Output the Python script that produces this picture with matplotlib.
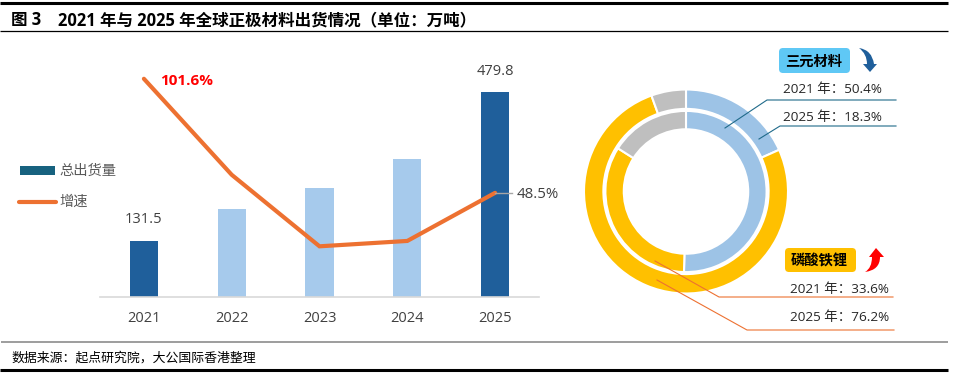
import matplotlib
matplotlib.use('Agg')
import matplotlib.pyplot as plt
from matplotlib.patches import FancyBboxPatch, PathPatch
from matplotlib.path import Path

plt.rcParams['font.family'] = ['Open Sans', 'Noto Sans CJK SC', 'DejaVu Sans']

years = ['2021', '2022', '2023', '2024', '2025']
shipments = [131.5, 206, 255, 323, 479.8]
growth = [101.6, 56.9, 23.6, 26.1, 48.5]
ring_2025 = [18.3, 76.2, 5.5]
ring_2021 = [50.4, 33.6, 16.0]

W, H = 954, 376
DARK = '#1F5F9B'
LIGHT = '#A6CAEC'
ORANGE = '#ED7131'
YELLOW = '#FFC000'
RING_BLUE = '#9DC3E6'
GRAY = '#BFBFBF'
TEXT = '#404040'
COLON = '\uff1a'  # полноширинное двоеточие


def rect(x0, y0, x1, y1):  # пиксели картинки -> доли фигуры
    return [x0 / W, 1 - y1 / H, (x1 - x0) / W, (y1 - y0) / H]


fig = plt.figure(figsize=(W / 100, H / 100), dpi=100)

# столбцы и линия
ax = fig.add_axes(rect(100, 50, 539, 297))
bar_colors = [DARK, LIGHT, LIGHT, LIGHT, DARK]
ax.bar(range(5), shipments, width=0.32, color=bar_colors)
ax.set_xlim(-0.5, 4.5)
ax.set_ylim(0, 578)
ax.set_xticks(range(5))
ax.set_xticklabels(years, fontsize=10.5, color=TEXT)
ax.tick_params(axis='x', length=0, pad=10)
ax.set_yticks([])
for s in ['top', 'left', 'right']:
    ax.spines[s].set_visible(False)
ax.spines['bottom'].set_color('#D9D9D9')
ax.spines['bottom'].set_linewidth(1.2)

ax2 = ax.twinx()
ax2.plot(range(5), growth, color=ORANGE, lw=3, solid_capstyle='round', solid_joinstyle='miter')
ax2.set_ylim(0, 115)
ax2.set_yticks([])
for s in ax2.spines.values():
    s.set_visible(False)

ax.text(0, shipments[0] + 49, '131.5', ha='center', va='center', fontsize=10.5, color=TEXT)
ax.text(4, shipments[4] + 48, '479.8', ha='center', va='center', fontsize=10.5, color=TEXT)

# кольца
ax3 = fig.add_axes(rect(584, 89.5, 788, 293.5))
wedge_colors = [RING_BLUE, YELLOW, GRAY]
ax3.pie(ring_2025, radius=1.0, colors=wedge_colors, startangle=90, counterclock=False,
        wedgeprops=dict(width=0.19, edgecolor='white', linewidth=1.5))
ax3.pie(ring_2021, radius=0.79, colors=wedge_colors, startangle=90, counterclock=False,
        wedgeprops=dict(width=0.18, edgecolor='white', linewidth=1.5))
ax3.set_xlim(-1.0, 1.0)
ax3.set_ylim(-1.0, 1.0)

# верхний слой в пикселях картинки
over = fig.add_axes([0, 0, 1, 1], facecolor='none')
over.set_xlim(0, W)
over.set_ylim(H, 0)
over.axis('off')

over.plot([0, 948], [3, 3], color='black', lw=2.2, solid_capstyle='butt')
over.plot([0, 948], [30.5, 30.5], color='black', lw=0.9, solid_capstyle='butt')
over.plot([1, 948], [342, 342], color='#8C8C8C', lw=1.2, solid_capstyle='butt')
over.plot([0, 948], [369.5, 369.5], color='black', lw=2.2, solid_capstyle='butt')

over.text(11, 20.5, '图 3', fontsize=11.9, fontweight='bold', color='black', va='center')
over.text(58, 20.5, '2021 年与 2025 年全球正极材料出货情况\uff08单位' + COLON + '万吨\uff09',
          fontsize=11.9, fontweight='bold', color='black', va='center')
over.text(11, 358, '数据来源' + COLON + '起点研究院\uff0c大公国际香港整理', fontsize=9.3,
          color='black', va='center')

# легенда
over.fill_between([20, 55], 166, 175, color='#17627F', lw=0)
over.plot([19, 56], [201.5, 201.5], color=ORANGE, lw=3, solid_capstyle='round')
over.text(59, 171, '总出货量', fontsize=10.3, color='#595959', va='center')
over.text(59, 202, '增速', fontsize=10.3, color='#595959', va='center')

over.text(160, 81, '101.6%', fontsize=11, fontweight='bold', color='#FF0000', va='center')
over.plot([495, 512], [193, 193], color='#A6A6A6', lw=1)
over.text(517, 195, '48.5%', fontsize=10.8, color=TEXT, va='center')

# подписи справа
for x0, y0, x1, y1, label, fc in [(779, 48, 850, 73, '三元材料', '#5FC8F5'),
                                  (785, 248, 856, 272, '磷酸铁锂', YELLOW)]:
    over.add_patch(FancyBboxPatch((x0 + 4, y0 + 4), x1 - x0 - 8, y1 - y0 - 8,
                                  boxstyle='round,pad=4,rounding_size=4', fc=fc, ec='none'))
    over.text((x0 + x1) / 2 - 1, (y0 + y1) / 2 + 1, label, fontsize=10.3, fontweight='bold',
              color='black', ha='center', va='center')

blue_arrow = [(859, 48), (872, 50), (874, 64), (877, 64), (870, 72), (863, 64), (867, 64),
              (867, 54), (859, 48)]
blue_codes = [Path.MOVETO, Path.CURVE3, Path.CURVE3, Path.LINETO, Path.LINETO, Path.LINETO,
              Path.LINETO, Path.CURVE3, Path.CURVE3]
over.add_patch(PathPatch(Path(blue_arrow, blue_codes), fc=DARK, ec='none'))
red_arrow = [(865, 272), (872, 268), (872, 257), (869, 257), (876, 248), (884, 257), (880, 257),
             (880, 270), (865, 272)]
over.add_patch(PathPatch(Path(red_arrow, blue_codes), fc='#FF0000', ec='none'))

leaders = [([725, 767, 896], [128, 100, 100], '#1F6A8A'),
           ([759, 780, 896], [139, 126, 126], '#1F6A8A'),
           ([655, 719, 893], [261, 297, 297], ORANGE),
           ([657, 747, 894], [280, 330, 330], ORANGE)]
for xs, ys, c in leaders:
    over.plot(xs, ys, color=c, lw=0.8)

for x, y, label in [(783, 90, '2021 年' + COLON + '50.4%'), (783, 118, '2025 年' + COLON + '18.3%'),
                    (790, 290, '2021 年' + COLON + '33.6%'), (790, 318, '2025 年' + COLON + '76.2%')]:
    over.text(x, y, label, fontsize=9.7, color='#262626', va='center')

fig.savefig('out.png', dpi=100)
